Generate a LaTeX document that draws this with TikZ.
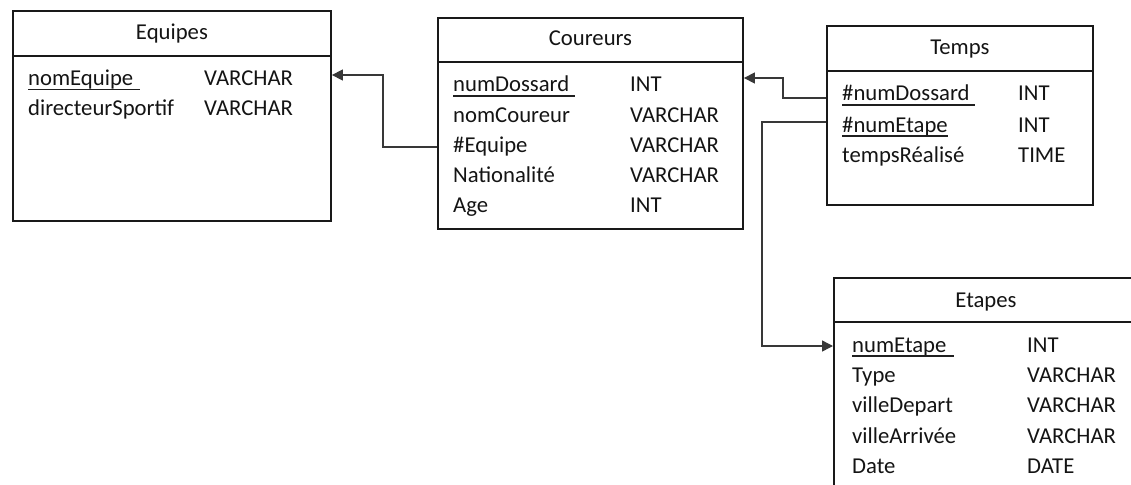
\documentclass[tikz,border=0pt]{standalone}
\usepackage{fontspec}
\setmainfont{Carlito}
\usetikzlibrary{arrows.meta}
\begin{document}
\begin{tikzpicture}[x=1pt,y=-1pt,
  box/.style={draw=black!90,line width=1.9pt,anchor=north west,inner sep=0pt},
  hrule/.style={draw=black!90,line width=1.7pt},
  txt/.style={anchor=base west,inner sep=0pt,text=black!92,font=\fontsize{22.7}{27}\selectfont},
  ttl/.style={anchor=base,inner sep=0pt,text=black!92,font=\fontsize{22.7}{27}\selectfont},
  conn/.style={draw=black!78,line width=1.4pt,-{Triangle[length=11pt,width=11pt]}},
  ul/.style={draw=black!88,line width=1.5pt}]
\useasboundingbox (0,0) rectangle (1131,484);
\clip (0,0) rectangle (1131,484);

% Equipes
\node[box,minimum width=318pt,minimum height=210pt] (eq) at (12,10) {};
\draw[hrule] (eq.west |- 0,56) -- (eq.east |- 0,56);
\node[ttl] (eqT) at (eq.north |- 0,40) {Equipes};
\node[txt] (e1) at (28,86) {nomEquipe};
\node[txt] (e1t) at (204,86) {VARCHAR};
\node[txt] (e2) at (28,116) {directeurSportif};
\node[txt] (e2t) at (204,116) {VARCHAR};
\draw[ul] ([yshift=-3.5pt]e1.base west) -- ([yshift=-3.5pt,xshift=7pt]e1.base east);

% Coureurs
\node[box,minimum width=305pt,minimum height=211pt] (cou) at (437,17) {};
\draw[hrule] (cou.west |- 0,62) -- (cou.east |- 0,62);
\node[ttl] (couT) at (cou.north |- 0,46) {Coureurs};
\node[txt] (c1) at (453,92) {numDossard};
\node[txt] (c1t) at (630,92) {INT};
\node[txt] (c2) at (453,122) {nomCoureur};
\node[txt] (c2t) at (630,122) {VARCHAR};
\node[txt] (c3) at (453,152) {\#Equipe};
\node[txt] (c3t) at (630,152) {VARCHAR};
\node[txt] (c4) at (453,182) {Nationalité};
\node[txt] (c4t) at (630,182) {VARCHAR};
\node[txt] (c5) at (453,212) {Age};
\node[txt] (c5t) at (630,212) {INT};
\draw[ul] ([yshift=-4pt]c1.base west) -- ([yshift=-4pt,xshift=6pt]c1.base east);

% Temps
\node[box,minimum width=266pt,minimum height=179pt] (tps) at (826,25) {};
\draw[hrule] (tps.west |- 0,71) -- (tps.east |- 0,71);
\node[ttl] (tpsT) at (tps.north |- 0,55) {Temps};
\node[txt] (t1) at (842,101) {\#numDossard};
\node[txt] (t1t) at (1018,101) {INT};
\node[txt] (t2) at (842,132) {\#numEtape};
\node[txt] (t2t) at (1018,132) {INT};
\node[txt] (t3) at (842,162) {tempsRéalisé};
\node[txt] (t3t) at (1018,162) {TIME};
\draw[ul] ([yshift=-4pt]t1.base west) -- ([yshift=-4pt,xshift=5pt]t1.base east);
\draw[ul] ([yshift=-4pt]t2.base west) -- ([yshift=-4pt]t2.base east);

% Etapes
\node[box,minimum width=320pt,minimum height=240pt] (et) at (833,277) {};
\draw[hrule] (et.west |- 0,322) -- (et.east |- 0,322);
\node[ttl] (etT) at (986,307) {Etapes};
\node[txt] (s1) at (852,352) {numEtape};
\node[txt] (s1t) at (1027,352) {INT};
\node[txt] (s2) at (852,382) {Type};
\node[txt] (s2t) at (1027,382) {VARCHAR};
\node[txt] (s3) at (852,412) {villeDepart};
\node[txt] (s3t) at (1027,412) {VARCHAR};
\node[txt] (s4) at (852,443) {villeArrivée};
\node[txt] (s4t) at (1027,443) {VARCHAR};
\node[txt] (s5) at (852,473) {Date};
\node[txt] (s5t) at (1027,473) {DATE};
\draw[ul] ([yshift=-4pt]s1.base west) -- ([yshift=-4pt,xshift=7pt]s1.base east);

% connectors
\draw[conn] (cou.west |- 0,147) -| (383,75) -- (eq.east |- 0,75);
\draw[conn] (tps.west |- 0,98) -| (783,78) -- (cou.east |- 0,78);
\draw[conn] (tps.west |- 0,122) -| (762,346) -- (et.west |- 0,346);
\end{tikzpicture}
\end{document}
